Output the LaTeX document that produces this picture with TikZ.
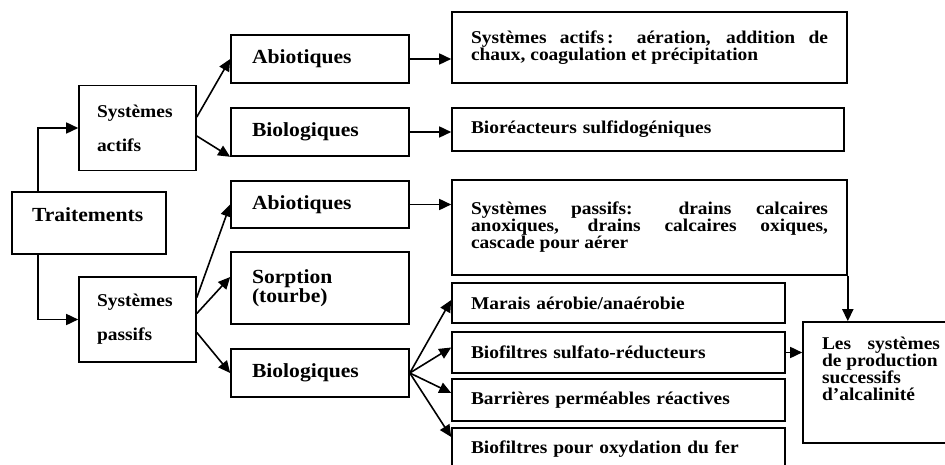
\documentclass[tikz,border=0pt]{standalone}
\usepackage{fontspec}
\setmainfont{Liberation Serif}[FakeStretch=1.08]
\usetikzlibrary{arrows.meta}
\hbadness=10000
\tikzset{
  box/.style={draw, inner xsep=19pt, inner ysep=0pt, align=left, font=\fontsize{18}{15.5}\selectfont\bfseries},
  bigbox/.style={box, inner xsep=21pt, text width=136pt, minimum height=48pt, font=\fontsize{20}{17}\selectfont\bfseries},
  sysbox/.style={box, inner xsep=18pt, text width=81pt, minimum height=85pt, font=\fontsize{18}{34}\selectfont\bfseries},
  longbox/.style={box, text width=357pt, align=justify},
  bfbox/.style={box, text width=295pt},
}
\begin{document}
\begin{tikzpicture}[x=1pt, y=-1pt, line width=1.6pt, >={Triangle[length=12pt,width=11pt]}]
\useasboundingbox (0,0) rectangle (945,465);
\node[box, inner xsep=20pt, text width=114pt, minimum height=62pt, text depth=16pt, font=\fontsize{20}{17}\selectfont\bfseries] (trait) at (89,223) {Traitements};
\node[sysbox] (sysact) at (137.5,128) {Systèmes\\actifs};
\node[sysbox] (syspas) at (137.5,319.5) {Systèmes\\passifs};
\node[bigbox] (abioA) at (320,59) {Abiotiques};
\node[bigbox] (bioA) at (320,132) {Biologiques};
\node[bigbox, minimum height=47pt] (abioP) at (320,204.5) {Abiotiques};
\node[bigbox, minimum height=72pt] (sorp) at (320,288) {Sorption\\(tourbe)};
\node[bigbox] (bioP) at (320,373) {Biologiques};
\node[longbox, minimum height=71pt] (actR) at (649.5,47.5) {Systèmes actifs\,: aération, addition de\linebreak chaux, coagulation et précipitation};
\node[box, text width=354pt, minimum height=43pt] (bioreac) at (648,129.5) {Bioréacteurs sulfidogéniques};
\node[longbox, minimum height=95pt, font=\fontsize{18}{17}\selectfont\bfseries] (pasR) at (649.5,227.5) {Systèmes passifs: drains calcaires\linebreak anoxiques, drains calcaires oxiques,\linebreak cascade pour aérer};
\node[bfbox, minimum height=40pt] (marais) at (618.5,303) {Marais aérobie/anaérobie};
\node[bfbox, minimum height=41pt] (sulfato) at (618.5,352.5) {Biofiltres sulfato-réducteurs};
\node[bfbox, minimum height=42pt] (barr) at (618.5,400) {Barrières perméables réactives};
\node[bfbox, minimum height=42pt] (fer) at (618.5,449) {Biofiltres pour oxydation du fer};
\node[box, text width=118pt, align=justify, minimum height=121pt, text depth=78pt, font=\fontsize{18}{17}\selectfont\bfseries] (alca) at (881,382.5) {Les systèmes\linebreak de production\\ successifs\\ d'alcalinité};
\draw[->] ([xshift=27pt]trait.north west) |- (sysact);
\draw[->] ([xshift=27pt]trait.south west) |- (syspas);
\draw[->] ([yshift=11pt]sysact.east) -- (abioA.west);
\draw[->] ([yshift=-8pt]sysact.east) -- (bioA.south west);
\draw[->] ([yshift=22pt]syspas.east) -- (abioP.west);
\draw[->] ([yshift=6pt]syspas.east) -- ([yshift=11pt]sorp.west);
\draw[->] ([yshift=-13pt]syspas.east) -- (bioP.west);
\draw[->] (abioA.east) -- (abioA.east -| actR.west);
\draw[->] (bioA.east) -- (bioA.east -| bioreac.west);
\draw[->] (abioP.east) -- (abioP.east -| pasR.west);
\foreach \b/\s in {marais/3,sulfato/5,barr/7,fer/12}
  \draw[->] (bioP.east) -- ([yshift=\s pt]\b.west);
\draw[->] (pasR.south east) -- (pasR.south east |- alca.north);
\draw[->] (sulfato.east) -- (sulfato.east -| alca.west);
\end{tikzpicture}
\end{document}
